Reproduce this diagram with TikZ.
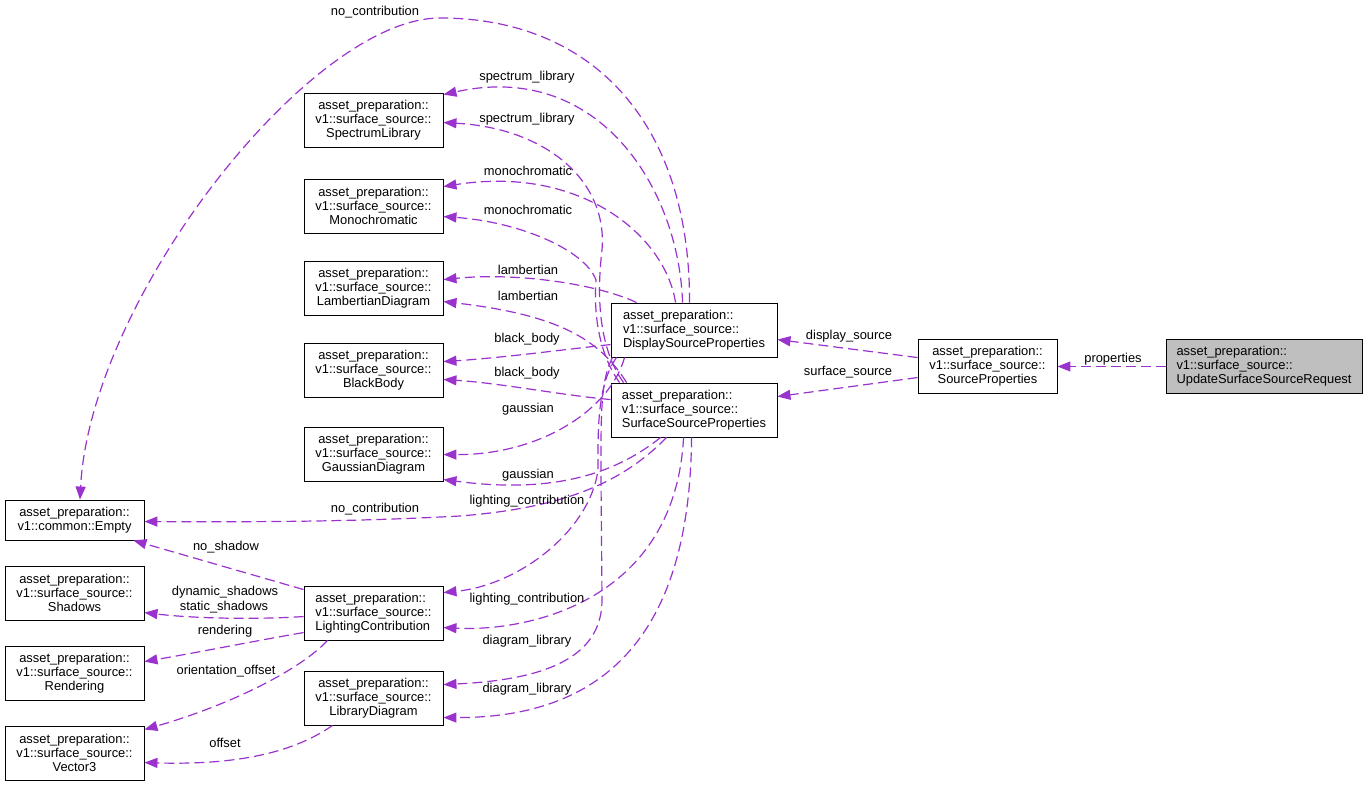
\documentclass[tikz,border=0pt]{standalone}
\usepackage{fontspec}
\setmainfont{Liberation Sans}
\usetikzlibrary{arrows.meta}
\definecolor{ecol}{RGB}{154,50,205}
\definecolor{ufill}{RGB}{191,191,191}
\newcommand{\lblfont}{\fontsize{12.9pt}{14pt}\selectfont}
\tikzset{
  cls/.style={draw=black, line width=0.9pt, minimum width=139pt, minimum height=54pt, inner sep=0pt, font=\lblfont, align=center},
  conn/.style={draw=ecol, line width=1.2pt, dash pattern=on 10pt off 5pt, -{Triangle[length=13pt,width=10pt]}},
  lab/.style={font=\lblfont, inner sep=0pt, anchor=base},
}
\begin{document}
\begin{tikzpicture}[x=1pt,y=-1pt]
\useasboundingbox (0,0) rectangle (1368,787);
% classes
\node[cls] (SL) at (373.5,120) {asset\_preparation::\\v1::surface\_source::\\SpectrumLibrary};
\node[cls] (MO) at (373.5,206) {asset\_preparation::\\v1::surface\_source::\\Monochromatic};
\node[cls] (LA) at (373.5,288) {asset\_preparation::\\v1::surface\_source::\\LambertianDiagram};
\node[cls] (BB) at (373.5,370) {asset\_preparation::\\v1::surface\_source::\\BlackBody};
\node[cls] (GA) at (373.5,454) {asset\_preparation::\\v1::surface\_source::\\GaussianDiagram};
\node[cls, minimum height=40pt] (EM) at (74.5,520) {asset\_preparation::\\v1::common::Empty};
\node[cls] (SH) at (74.5,593) {asset\_preparation::\\v1::surface\_source::\\Shadows};
\node[cls] (RE) at (74.5,673) {asset\_preparation::\\v1::surface\_source::\\Rendering};
\node[cls] (V3) at (74.5,753) {asset\_preparation::\\v1::surface\_source::\\Vector3};
\node[cls, align=left] (LC) at (373.5,613) {asset\_preparation::\\v1::surface\_source::\\LightingContribution};
\node[cls] (LD) at (373.5,698) {asset\_preparation::\\v1::surface\_source::\\LibraryDiagram};
\node[cls, align=left, minimum width=166pt] (DS) at (694,330) {asset\_preparation::\\v1::surface\_source::\\DisplaySourceProperties};
\node[cls, align=left, minimum width=166pt] (SS) at (694,410) {asset\_preparation::\\v1::surface\_source::\\SurfaceSourceProperties};
\node[cls] (SP) at (987.5,366) {asset\_preparation::\\v1::surface\_source::\\SourceProperties};
\node[cls, align=left, minimum width=196pt, fill=ufill] (US) at (1264,366) {asset\_preparation::\\v1::surface\_source::\\UpdateSurfaceSourceRequest};
% right side
\draw[conn] ([yshift=-0.5pt]US.west) -- ([yshift=-0.5pt]SP.east);
\draw[conn] ([yshift=-19pt]SP.north west) -- ([yshift=-37pt]DS.north east);
\draw[conn] ([yshift=-39pt]SP.north west) -- ([yshift=-14pt]SS.north east);
% DisplaySourceProperties
\draw[conn] ([xshift=79pt]DS.north west) .. controls (690,120) and (590,18) .. (440,18) .. controls (310,18) and (90,300) .. ([xshift=5.5pt]EM.north);
\draw[conn] ([xshift=72pt]DS.north west) .. controls (679,190) and (600,60) .. ([yshift=-2pt]SL.north east);
\draw[conn] ([xshift=65pt]DS.north west) .. controls (665,235) and (580,165) .. ([yshift=-8pt]MO.north east);
\draw[conn] ([xshift=26pt]DS.north west) .. controls (600,285) and (520,272) .. ([yshift=-19pt]LA.north east);
\draw[conn] ([yshift=-42pt]DS.north west) .. controls (560,350) and (500,358) .. ([yshift=-19pt]BB.north east);
\draw[conn] ([xshift=14pt]DS.south west) .. controls (610,410) and (540,455) .. ([yshift=-28pt]GA.north east);
\draw[conn] ([xshift=6pt]DS.south west) .. controls (597,385) and (598,430) .. (598,470) .. controls (590,530) and (520,585) .. ([yshift=-7pt]LC.north east);
\draw[conn] ([xshift=2pt]DS.south west) .. controls (600,380) and (601,420) .. (601,480) -- (602,600) .. controls (602,660) and (540,680) .. ([yshift=-14pt]LD.north east);
% SurfaceSourceProperties
\draw[conn] ([xshift=13pt]SS.north west) .. controls (600,350) and (596,300) .. (602,250) .. controls (608,180) and (545,128) .. ([yshift=-30pt]SL.north east);
\draw[conn] ([xshift=9pt]SS.north west) .. controls (596,350) and (594,305) .. (596,280) .. controls (585,250) and (520,222) .. ([yshift=-38pt]MO.north east);
\draw[conn] ([xshift=16pt]SS.north west) .. controls (600,340) and (560,315) .. ([yshift=-41pt]LA.north east);
\draw[conn] ([yshift=-17pt]SS.north west) .. controls (560,395) and (500,383) .. ([yshift=-37pt]BB.north east);
\draw[conn] ([xshift=50pt]SS.south west) .. controls (620,470) and (560,495) .. ([yshift=-53pt]GA.north east);
\draw[conn] ([xshift=56pt]SS.south west) .. controls (620,485) and (560,508) .. (460,516) .. controls (350,522) and (250,522) .. ([yshift=-22pt]EM.north east);
\draw[conn] ([xshift=73pt]SS.south west) .. controls (675,600) and (530,632) .. ([yshift=-42pt]LC.north east);
\draw[conn] ([xshift=81pt]SS.south west) .. controls (690,640) and (600,718) .. ([yshift=-47pt]LD.north east);
% LightingContribution / LibraryDiagram
\draw[conn] ([yshift=-4pt]LC.north west) -- ([xshift=-11pt]EM.south east);
\draw[conn] ([yshift=-31pt]LC.north west) .. controls (250,620) and (190,618) .. ([yshift=-47pt]SH.north east);
\draw[conn] ([yshift=-47pt]LC.north west) .. controls (260,640) and (200,652) .. ([yshift=-16pt]RE.north east);
\draw[conn] ([xshift=24pt]LC.south west) .. controls (300,670) and (230,705) .. ([yshift=-4pt]V3.north east);
\draw[conn] ([xshift=29pt]LD.south west) .. controls (290,755) and (230,765) .. ([yshift=-37pt]V3.north east);
% labels
\node[lab] (l1) at (375,15.5) {no\_contribution};
\node[lab] (l2) at (527,80.5) {spectrum\_library};
\node[lab] (l3) at (527,122.5) {spectrum\_library};
\node[lab] (l4) at (528,175.5) {monochromatic};
\node[lab] (l5) at (528,214.5) {monochromatic};
\node[lab] (l6) at (528,274.5) {lambertian};
\node[lab] (l7) at (528,300.5) {lambertian};
\node[lab] (l8) at (527,342.5) {black\_body};
\node[lab] (l9) at (527,376.5) {black\_body};
\node[lab] (l10) at (528,412.5) {gaussian};
\node[lab] (l11) at (528,478.5) {gaussian};
\node[lab] (l12) at (527,504.5) {lighting\_contribution};
\node[lab] (l13) at (527,602.5) {lighting\_contribution};
\node[lab] (l14) at (375,512.5) {no\_contribution};
\node[lab] (l15) at (226,550.5) {no\_shadow};
\node[lab] (l16) at (225,595.5) {dynamic\_shadows};
\node[lab] (l17) at (224,610.5) {static\_shadows};
\node[lab] (l18) at (225,634.5) {rendering};
\node[lab] (l19) at (226,674.5) {orientation\_offset};
\node[lab] (l20) at (225,747.5) {offset};
\node[lab] (l21) at (527,644.5) {diagram\_library};
\node[lab] (l22) at (527,692.5) {diagram\_library};
\node[lab] (l23) at (849,339.5) {display\_source};
\node[lab] (l24) at (848,375.5) {surface\_source};
\node[lab] (l25) at (1113,362.5) {properties};
\end{tikzpicture}
\end{document}
